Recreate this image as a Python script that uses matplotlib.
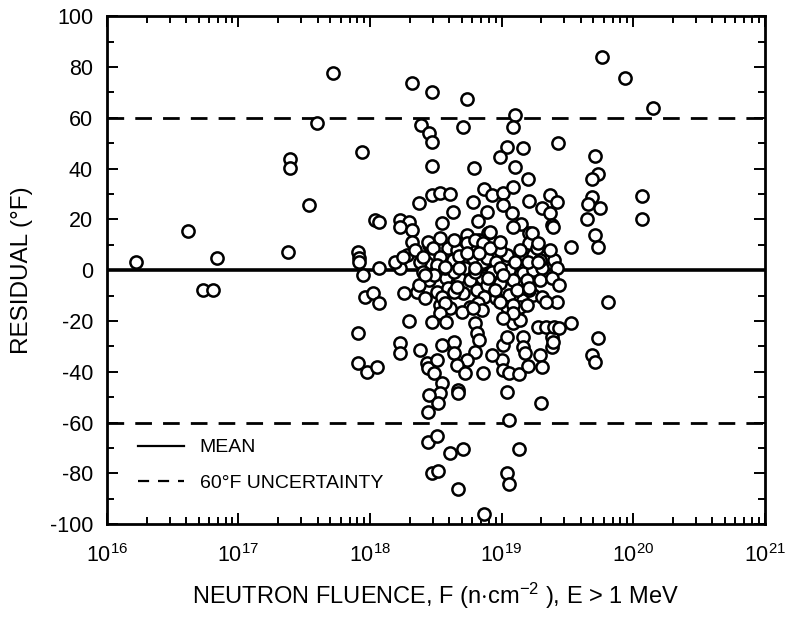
import matplotlib
matplotlib.use("Agg")
import matplotlib.pyplot as plt
import numpy as np
from matplotlib.ticker import MultipleLocator, LogLocator, NullFormatter
from matplotlib.lines import Line2D

plt.rcParams['font.family'] = ['Liberation Sans', 'DejaVu Sans']
plt.rcParams['mathtext.fontset'] = 'custom'
plt.rcParams['mathtext.rm'] = 'Liberation Sans'
plt.rcParams['mathtext.it'] = 'Liberation Sans'
plt.rcParams['axes.unicode_minus'] = False

# log10 of neutron fluence (n/cm^2) and residual (deg F) for each surveillance point
log_fluence = [
    16.22, 16.62, 16.84, 16.73, 16.81, 17.38, 17.39, 17.39, 17.54, 17.60,
    17.72, 17.94, 17.91, 17.92, 17.92, 17.95, 18.07, 18.04, 18.07, 18.23,
    18.30, 18.23, 18.32, 17.96, 18.02, 18.07, 18.26, 18.36, 17.91, 17.91,
    17.98, 18.05, 18.23, 18.23, 18.30, 18.38,
    # upper scatter
    18.32, 18.47, 18.74, 19.76, 19.94, 20.15, 18.39, 18.45, 18.47, 18.71,
    19.10, 19.09, 18.47, 19.04, 18.99, 19.16, 19.10, 19.20, 19.43, 19.71,
    19.73, 19.69, 18.79, 20.07, 20.07, 19.69, 19.66, 19.75, 19.65, 19.71,
    19.73, 19.53, 19.37, 19.42, 19.31, 19.37, 19.21, 19.38, 19.39, 18.87,
    18.93, 19.01, 19.09, 19.01, 19.08, 19.15, 19.21, 19.09, 18.78, 18.89,
    18.82, 18.90, 18.63, 18.55, 18.47, 18.53, 18.61, 18.37, 18.32, 18.45,
    18.53, 18.74, 18.83, 18.91, 19.21, 19.23,
    # dense band around the mean
    18.28, 18.34, 18.44, 18.48, 18.59, 18.66, 18.74, 18.80, 18.86, 18.53,
    18.43, 18.51, 18.63, 18.71, 18.78, 18.86, 18.45, 18.58, 18.68, 18.76,
    18.85, 18.51, 18.59, 18.71, 18.81, 18.53, 18.76, 18.61, 18.89, 18.96,
    19.04, 19.14, 19.24, 19.33, 19.40, 18.93, 19.06, 19.16, 19.24, 19.31,
    19.42, 18.89, 18.99, 19.09, 19.19, 19.29, 19.38, 18.87, 18.96, 19.06,
    19.16, 19.24, 19.31, 19.42, 19.04, 19.14, 19.34, 18.99, 19.09, 19.19,
    18.38, 18.57, 18.64, 18.72, 18.80, 18.99, 19.10, 19.20, 19.29, 18.99,
    18.68, 18.40, 18.37, 18.49, 18.91, 19.27, 19.37, 18.64, 19.12, 19.21,
    18.95, 18.64, 18.42, 19.44, 18.23, 18.19,
    18.25, 18.40, 18.57, 18.68, 18.80, 18.74, 18.83, 18.42, 18.66, 18.55,
    18.99, 19.28, 19.01, 19.21, 19.28, 18.90,
    # lower scatter
    18.57, 18.53, 18.58, 18.47, 18.82, 18.85, 18.70, 18.78, 18.80, 18.81,
    18.83, 18.80, 18.74, 19.09, 19.14, 19.09, 19.01, 19.01, 19.04, 19.16,
    19.16, 19.18, 19.00, 18.93, 19.01, 19.06, 19.13, 19.20, 19.29, 19.31,
    19.38, 19.38, 19.28, 19.34, 19.40, 19.44, 19.53, 19.73, 19.69, 19.71,
    19.81, 19.39, 18.43, 18.44, 18.51, 18.55, 18.64, 18.49, 18.64, 18.66,
    18.72, 18.86, 18.55, 18.53, 18.45, 18.52, 18.44, 18.67, 18.67, 19.04,
    19.30, 19.06, 18.44, 18.51, 18.61, 18.71, 18.47, 18.52, 18.67, 19.13,
    19.04, 19.06, 18.87,
]

residual = [
    3.1, 15.4, 4.7, -7.9, -7.9, 7.1, 43.7, 40.2, 25.6, 57.9,
    77.6, 46.5, 7.1, 4.7, 3.1, -2.0, 0.8, 19.7, 18.9, 19.7,
    18.9, 16.9, 15.7, -10.6, -9.1, -13.0, -9.1, -8.7, -24.8, -36.6,
    -40.2, -38.2, -28.7, -32.7, -20.1, -31.5,
    73.6, 70.1, 67.3, 83.9, 75.6, 63.8, 57.1, 53.9, 50.4, 56.3,
    61.0, 56.3, 40.9, 48.4, 44.5, 48.0, 40.6, 35.8, 50.0, 44.9,
    37.8, 35.8, 40.2, 29.1, 20.1, 28.7, 26.0, 24.4, 20.1, 13.8,
    9.1, 9.1, 29.5, 26.8, 24.4, 22.4, 27.2, 17.7, 16.9, 31.9,
    29.5, 30.3, 32.7, 25.6, 22.4, 18.1, 14.6, 16.9, 26.8, 22.8,
    19.3, 14.6, 22.8, 18.5, 29.5, 30.3, 29.9, 26.4, 11.0, 9.8,
    12.6, 13.8, 11.8, 15.0, 10.6, 14.6,
    5.9, 7.9, 11.0, 8.7, 8.7, 7.9, 10.6, 11.8, 10.6, 5.1,
    2.8, 2.0, 3.9, 2.8, 4.7, 3.1, -3.9, -3.1, -2.8, -3.9,
    -3.1, -8.7, -7.1, -9.1, -7.9, -13.8, -14.6, -15.0, 4.7, 3.1,
    5.9, 7.9, 5.9, 5.1, 3.9, -0.8, 0.0, -1.2, 0.0, 0.8,
    0.8, -5.9, -5.1, -3.9, -3.9, -3.9, -3.1, -10.6, -11.0, -9.8,
    -11.8, -9.8, -10.6, -12.6, -14.6, -14.6, -12.6, -12.6, -13.8, -13.8,
    3.1, 0.8, -0.8, 0.8, -0.8, 0.8, 3.1, 3.1, 3.9, 7.9,
    5.5, -0.8, -5.9, -2.0, 8.7, 8.7, 7.9, 11.8, -7.9, -7.9,
    -7.9, -8.7, -11.0, -5.9, 0.8, 3.1,
    5.1, 5.1, 1.2, 0.8, 0.8, 6.7, 6.7, -2.0, -6.7, -10.6,
    11.0, 10.6, -2.0, -7.1, 3.1, -3.1,
    -13.0, -16.9, -20.5, -20.5, -13.0, -15.7, -16.5, -15.0, -20.9, -24.8,
    -27.6, -32.3, -35.4, -20.9, -19.7, -16.9, -18.9, -29.5, -26.4, -26.4,
    -30.3, -32.7, -35.4, -33.5, -39.4, -40.6, -40.9, -37.8, -33.5, -38.2,
    -26.4, -30.3, -22.4, -22.4, -22.4, -22.8, -20.9, -26.8, -33.5, -36.2,
    -12.6, -28.3, -36.6, -38.6, -35.4, -29.5, -28.3, -40.6, -32.7, -37.4,
    -40.6, -40.6, -44.5, -48.4, -49.2, -52.4, -55.9, -47.2, -48.4, -48.0,
    -52.4, -59.1, -67.7, -65.4, -72.0, -70.5, -79.9, -79.1, -86.2, -70.5,
    -79.9, -84.3, -96.1,
]

mean_residual = 0.0
uncertainty = 60.0

x_ticks_exp = [16, 17, 18, 19, 20, 21]
y_ticks = [-100, -80, -60, -40, -20, 0, 20, 40, 60, 80, 100]

fluence = np.power(10.0, np.array(log_fluence))

fig = plt.figure(figsize=(8.10, 6.19), dpi=100)
ax = fig.add_axes([0.132, 0.153, 0.812, 0.821])

ax.set_xscale('log')
ax.set_xlim(10.0 ** x_ticks_exp[0], 10.0 ** x_ticks_exp[-1])
ax.set_ylim(y_ticks[0], y_ticks[-1])

ax.axhline(mean_residual, color='black', lw=2.6, zorder=2)
ax.axhline(uncertainty, color='black', lw=2.0, ls=(0, (6, 4)), zorder=2)
ax.axhline(-uncertainty, color='black', lw=2.0, ls=(0, (6, 4)), zorder=2)

ax.plot(fluence, residual, linestyle='none', marker='o', markersize=8.8,
        markerfacecolor='white', markeredgecolor='black', markeredgewidth=1.8,
        zorder=3)

ax.set_xticks([10.0 ** e for e in x_ticks_exp])
ax.set_xticklabels([r'$\mathregular{10^{%d}}$' % e for e in x_ticks_exp])
ax.xaxis.set_minor_locator(LogLocator(base=10, subs=np.arange(2, 10), numticks=50))
ax.xaxis.set_minor_formatter(NullFormatter())
ax.set_yticks(y_ticks)
ax.yaxis.set_minor_locator(MultipleLocator(10))

ax.tick_params(which='both', direction='in', top=True, right=True,
               labelsize=15.5, width=1.4)
ax.tick_params(axis='x', which='major', pad=14)
ax.tick_params(axis='y', which='major', pad=10)
ax.tick_params(which='major', length=8)
ax.tick_params(which='minor', length=5)
for s in ax.spines.values():
    s.set_linewidth(2.0)

ax.set_xlabel(r'NEUTRON FLUENCE, F (n$\cdot$cm$^{-2}$ ), E > 1 MeV', fontsize=17, labelpad=10)
ax.set_ylabel('RESIDUAL (°F)', fontsize=17.5, labelpad=12)

handles = [Line2D([], [], color='black', lw=1.6),
           Line2D([], [], color='black', lw=1.6, ls=(0, (5, 4)))]
ax.legend(handles, ['MEAN', '60°F UNCERTAINTY'], loc='lower left',
          bbox_to_anchor=(0.02, 0.03), frameon=False, fontsize=14,
          handlelength=2.4, handletextpad=0.8, labelspacing=0.9)

fig.savefig('out.png', dpi=100)
